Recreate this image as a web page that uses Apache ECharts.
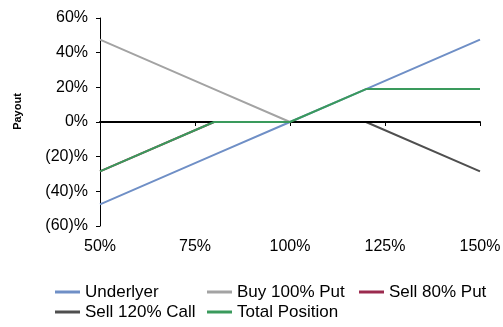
<!DOCTYPE html>
<html>
<head>
<meta charset="utf-8">
<script src="https://cdn.jsdelivr.net/npm/echarts@6/dist/echarts.min.js"></script>
<style>
  html, body { margin: 0; padding: 0; background: #fff; }
  #chart { width: 503px; height: 327px; }
</style>
</head>
<body>
<div id="chart"></div>
<script>
// Spot level at expiry (% of initial) and payout (%) of each leg
var moneyness = [50, 80, 100, 120, 150];
var underlyer = [-47.5, -19, 0, 19, 47.5];
var buyPut100 = [47.5, 19, 0, 0, 0];
var sellPut80 = [-28.5, 0, 0, 0, 0];
var sellCall120 = [0, 0, 0, 0, -28.5];
var totalPosition = [-28.5, 0, 0, 19, 19];

var xTicks = [50, 75, 100, 125, 150];
var yTicks = [-60, -40, -20, 0, 20, 40, 60];

function pairs(vals) {
  return moneyness.map(function (m, i) { return [m, vals[i]]; });
}

var FONT = '"Liberation Sans", Arial, sans-serif';

function lineSeries(name, vals, color, z) {
  return {
    name: name,
    type: 'line',
    data: pairs(vals),
    showSymbol: false,
    symbol: 'none',
    lineStyle: { color: color, width: 2 },
    itemStyle: { color: color },
    z: z,
    animation: false
  };
}

var chart = echarts.init(document.getElementById('chart'), null, { renderer: 'canvas' });
chart.setOption({
  animation: false,
  textStyle: { fontFamily: FONT },
  grid: {
    left: 100, right: 23, top: 18, bottom: 101,
    containLabel: false,
    outerBoundsMode: 'none'
  },
  xAxis: {
    type: 'value',
    min: xTicks[0],
    max: xTicks[xTicks.length - 1],
    interval: 25,
    z: 3,
    axisLine: { onZero: true, lineStyle: { color: '#000', width: 2 } },
    axisTick: { show: true, length: 4, inside: false, lineStyle: { color: '#000' } },
    axisLabel: {
      margin: 13,
      color: '#000',
      fontSize: 16,
      fontFamily: FONT,
      formatter: function (v) { return v + '%'; }
    },
    splitLine: { show: false }
  },
  yAxis: {
    type: 'value',
    min: yTicks[0],
    max: yTicks[yTicks.length - 1],
    interval: 20,
    name: 'Payout',
    nameLocation: 'middle',
    nameRotate: 90,
    nameGap: 77,
    nameTextStyle: {
      fontWeight: 'bold', fontSize: 11, color: '#000', fontFamily: FONT,
      padding: [0, 0, 0, 21]
    },
    axisLine: { show: true, lineStyle: { color: '#000', width: 1 } },
    axisTick: { show: true, length: 4, inside: false, lineStyle: { color: '#000' } },
    axisLabel: {
      margin: 12,
      color: '#000',
      fontSize: 16,
      fontFamily: FONT,
      formatter: function (v) { return v < 0 ? '(' + (-v) + ')%' : v + '%'; }
    },
    splitLine: { show: false }
  },
  legend: {
    left: 55,
    top: 282,
    width: 460,
    padding: 0,
    itemWidth: 25,
    itemHeight: 3,
    itemGap: 0,
    itemTextGap: 4,
    icon: 'rect',
    textStyle: { fontSize: 17, color: '#000', fontFamily: FONT, width: 122, lineHeight: 20 },
    data: ['Underlyer', 'Buy 100% Put', 'Sell 80% Put', 'Sell 120% Call', 'Total Position']
  },
  series: [
    lineSeries('Underlyer', underlyer, '#6F8FC6', 2),
    lineSeries('Buy 100% Put', buyPut100, '#A3A3A3', 2),
    lineSeries('Sell 80% Put', sellPut80, '#9B2A4E', 2),
    lineSeries('Sell 120% Call', sellCall120, '#4F4F4F', 2),
    lineSeries('Total Position', totalPosition, '#3A9A5C', 4)
  ]
});
</script>
</body>
</html>
